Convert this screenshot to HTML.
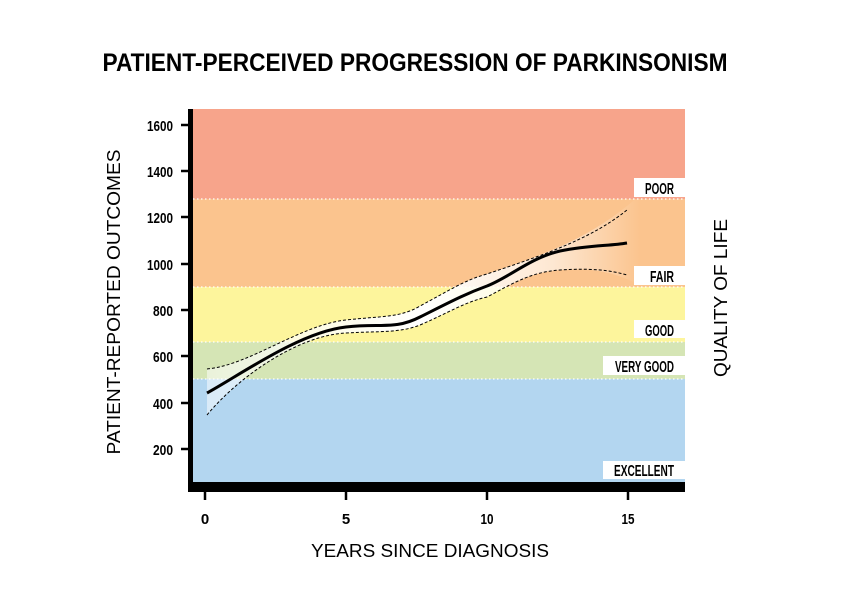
<!DOCTYPE html>
<html><head><meta charset="utf-8"><style>
body{margin:0;background:#fff;}
svg{display:block;}
.n{font-family:"Liberation Sans Narrow","Liberation Sans",sans-serif;}
</style></head><body>
<svg width="842" height="595" viewBox="0 0 842 595" xmlns="http://www.w3.org/2000/svg">
<defs>
<linearGradient id="g" x1="0" x2="1" y1="0" y2="0">
<stop offset="0" stop-color="#fff" stop-opacity="0.5"/>
<stop offset="0.5" stop-color="#fff" stop-opacity="1"/>
<stop offset="0.8" stop-color="#fff" stop-opacity="0.6"/>
<stop offset="1" stop-color="#fff" stop-opacity="0"/>
</linearGradient>
</defs>
<text x="415" y="71" text-anchor="middle" class="n" font-weight="bold" font-size="25" textLength="625" lengthAdjust="spacingAndGlyphs">PATIENT-PERCEIVED PROGRESSION OF PARKINSONISM</text>
<rect x="190" y="109" width="495" height="90" fill="#f7a48b"/>
<rect x="190" y="199" width="495" height="88" fill="#fbc48e"/>
<rect x="190" y="287" width="495" height="55" fill="#fdf59c"/>
<rect x="190" y="342" width="495" height="37" fill="#d5e5b5"/>
<rect x="190" y="379" width="495" height="103" fill="#b3d6f0"/>
<g stroke="#fff" stroke-width="1.2" stroke-dasharray="1.5 2.5">
<line x1="193" x2="685" y1="199" y2="199"/><line x1="193" x2="685" y1="287" y2="287"/>
<line x1="193" x2="685" y1="342" y2="342"/><line x1="193" x2="685" y1="379" y2="379"/>
</g>
<path d="M207,369 C250,365 300,325 346,320 C380,316 400,318 420,306 C450,290 465,280 487,274 C540,256 590,240 640,195 L640,285 C610,270 590,268 560,270 C530,272 510,285 487,297 C465,302 450,312 420,325 C400,333 380,331 346,333 C300,335 240,375 207,415 Z" fill="url(#g)"/>
<g fill="none" stroke="#000" stroke-width="1" stroke-dasharray="3 2">
<path d="M207,369 C250,365 300,325 346,320 C380,316 400,318 420,306 C450,290 465,280 487,274 C540,256 590,240 627,210"/>
<path d="M207,415 C240,375 300,335 346,333 C380,331 400,333 420,325 C450,312 465,302 487,297 C510,285 530,272 560,270 C590,268 610,270 627,275"/>
</g>
<path d="M207,393 C240,375 300,332 346,327 C380,323 395,330 420,317 C450,302 465,294 487,286 C510,277 530,258 560,251 C590,245 610,246 627,243" fill="none" stroke="#000" stroke-width="3"/>
<rect x="188" y="109" width="5" height="383" fill="#000"/>
<rect x="188" y="482" width="497" height="10" fill="#000"/>
<g stroke="#000" stroke-width="2.5">
<line x1="181" x2="188" y1="125" y2="125"/><line x1="181" x2="188" y1="171" y2="171"/>
<line x1="181" x2="188" y1="217" y2="217"/><line x1="181" x2="188" y1="264" y2="264"/>
<line x1="181" x2="188" y1="310" y2="310"/><line x1="181" x2="188" y1="356" y2="356"/>
<line x1="181" x2="188" y1="403" y2="403"/><line x1="181" x2="188" y1="449" y2="449"/>
<line x1="205" x2="205" y1="492" y2="500"/><line x1="346" x2="346" y1="492" y2="500"/>
<line x1="487" x2="487" y1="492" y2="500"/><line x1="628" x2="628" y1="492" y2="500"/>
</g>
<g class="n" font-weight="bold" font-size="15" text-anchor="end">
<text x="173" y="131" textLength="26" lengthAdjust="spacingAndGlyphs">1600</text>
<text x="173" y="177" textLength="26" lengthAdjust="spacingAndGlyphs">1400</text>
<text x="173" y="223" textLength="26" lengthAdjust="spacingAndGlyphs">1200</text>
<text x="173" y="270" textLength="26" lengthAdjust="spacingAndGlyphs">1000</text>
<text x="173" y="316" textLength="20" lengthAdjust="spacingAndGlyphs">800</text>
<text x="173" y="362" textLength="20" lengthAdjust="spacingAndGlyphs">600</text>
<text x="173" y="409" textLength="20" lengthAdjust="spacingAndGlyphs">400</text>
<text x="173" y="455" textLength="20" lengthAdjust="spacingAndGlyphs">200</text>
</g>
<g class="n" font-weight="bold" font-size="15" text-anchor="middle">
<text x="205" y="524">0</text><text x="346" y="524">5</text>
<text x="487" y="524" textLength="13" lengthAdjust="spacingAndGlyphs">10</text>
<text x="628" y="524" textLength="13" lengthAdjust="spacingAndGlyphs">15</text>
</g>
<g fill="#fff">
<rect x="634" y="178" width="51" height="19"/><rect x="634" y="266" width="51" height="19"/>
<rect x="634" y="320" width="51" height="18"/><rect x="603" y="356" width="82" height="19"/>
<rect x="603" y="461" width="82" height="18"/>
</g>
<g class="n" font-weight="bold" font-size="16" text-anchor="end">
<text x="674" y="194" textLength="29" lengthAdjust="spacingAndGlyphs">POOR</text>
<text x="674" y="282" textLength="24" lengthAdjust="spacingAndGlyphs">FAIR</text>
<text x="674" y="336" textLength="29" lengthAdjust="spacingAndGlyphs">GOOD</text>
<text x="674" y="372" textLength="59" lengthAdjust="spacingAndGlyphs">VERY GOOD</text>
<text x="674" y="476" textLength="60" lengthAdjust="spacingAndGlyphs">EXCELLENT</text>
</g>
<text x="430" y="557" text-anchor="middle" font-family="Liberation Sans,sans-serif" font-size="18" textLength="238" lengthAdjust="spacingAndGlyphs">YEARS SINCE DIAGNOSIS</text>
<text transform="translate(120,302) rotate(-90)" text-anchor="middle" font-family="Liberation Sans,sans-serif" font-size="18" textLength="305" lengthAdjust="spacingAndGlyphs">PATIENT-REPORTED OUTCOMES</text>
<text transform="translate(727,298) rotate(-90)" text-anchor="middle" font-family="Liberation Sans,sans-serif" font-size="18" textLength="158" lengthAdjust="spacingAndGlyphs">QUALITY OF LIFE</text>
</svg>
</body></html>
